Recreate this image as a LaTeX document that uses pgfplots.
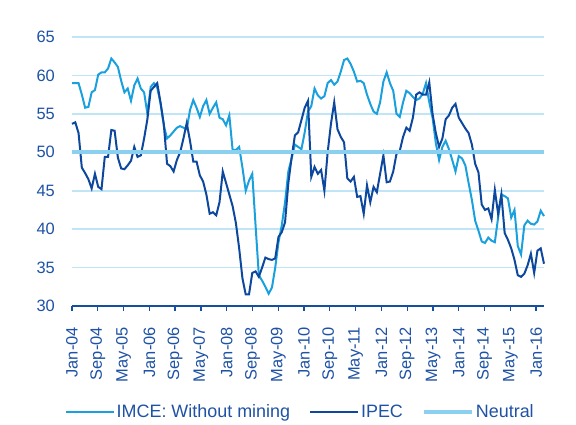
\documentclass[border=0pt]{standalone}
\usepackage{fontspec}
\setmainfont{Liberation Sans}
\usepackage{pgfplots}
\pgfplotsset{compat=1.18}
\usepackage{pgfplotstable}
\definecolor{imce}{RGB}{27,160,222}
\definecolor{ipec}{RGB}{14,72,158}
\definecolor{gridc}{RGB}{192,229,247}
\definecolor{neutral}{RGB}{140,208,240}
\definecolor{txt}{RGB}{30,82,165}
\definecolor{axisc}{RGB}{22,78,160}

% i = month index (Jan-04 = 0)
\pgfplotstableread{
i imce ipec
0 59.0 53.7
1 59.0 53.9
2 59.0 52.5
3 57.5 48.0
4 55.8 47.3
5 55.9 46.5
6 57.8 45.3
7 58.1 47.2
8 60.1 45.5
9 60.4 45.2
10 60.4 49.4
11 60.9 49.4
12 62.2 52.9
13 61.7 52.8
14 61.1 49.3
15 59.3 47.9
16 57.8 47.8
17 58.3 48.3
18 56.7 48.9
19 58.7 50.7
20 59.6 49.4
21 58.3 49.6
22 57.8 51.8
23 55.0 54.3
24 58.5 58.0
25 59.0 58.5
26 58.4 59.0
27 56.4 56.5
28 53.5 53.7
29 51.8 48.5
30 52.2 48.2
31 52.7 47.5
32 53.2 49.0
33 53.4 50.0
34 53.2 51.8
35 53.0 53.8
36 55.5 51.5
37 56.8 48.8
38 55.8 48.8
39 54.6 47.0
40 56.0 46.2
41 56.8 44.5
42 55.0 42.0
43 55.8 42.2
44 56.5 41.8
45 54.5 43.5
46 54.3 47.5
47 53.5 46.0
48 54.8 44.5
49 50.3 43.0
50 50.3 40.8
51 50.7 37.5
52 48.0 33.6
53 45.0 31.5
54 46.3 31.5
55 47.2 34.3
56 40.5 34.5
57 34.0 33.8
58 33.3 35.0
59 32.5 36.3
60 31.6 36.1
61 32.4 36.0
62 35.0 36.2
63 38.3 39.0
64 40.5 39.6
65 43.5 40.9
66 47.5 46.0
67 49.2 49.3
68 51.0 52.2
69 50.7 52.6
70 50.4 54.2
71 52.6 55.8
72 55.3 56.7
73 56.0 46.8
74 58.3 48.1
75 57.4 47.2
76 57.0 47.7
77 57.3 45.0
78 59.0 50.0
79 59.4 53.7
80 58.8 56.5
81 59.2 53.0
82 60.5 52.0
83 62.0 51.3
84 62.2 46.6
85 61.5 46.2
86 60.5 46.8
87 59.2 44.2
88 59.3 44.3
89 59.0 42.0
90 57.5 45.7
91 56.3 43.5
92 55.3 45.5
93 55.0 44.8
94 56.5 47.2
95 59.2 49.6
96 60.4 46.1
97 59.0 46.2
98 58.0 47.5
99 55.0 49.8
100 54.6 50.2
101 56.5 52.0
102 58.0 53.2
103 57.7 52.8
104 57.2 54.5
105 56.8 57.5
106 57.0 57.8
107 57.6 57.5
108 59.0 57.5
109 56.5 59.1
110 54.5 55.0
111 51.2 52.5
112 49.0 50.7
113 50.7 51.8
114 51.5 54.3
115 50.4 54.8
116 49.0 55.8
117 47.5 56.3
118 49.5 54.5
119 49.2 53.8
120 48.3 53.1
121 46.0 52.5
122 43.8 51.0
123 41.1 48.5
124 39.8 47.4
125 38.4 43.2
126 38.2 42.5
127 38.9 42.7
128 38.5 41.3
129 38.3 45.1
130 41.5 42.0
131 44.5 44.5
132 44.3 39.5
133 44.0 38.6
134 41.5 37.5
135 42.5 36.0
136 37.8 34.0
137 36.7 33.8
138 40.5 34.2
139 41.1 35.3
140 40.7 36.8
141 40.6 34.3
142 41.0 37.2
143 42.4 37.5
144 41.7 35.5
}\chartdata

\begin{document}
\begin{tikzpicture}
\path[use as bounding box] (0,0) rectangle (576bp,425bp);
\begin{axis}[
  at={(72bp,119bp)}, anchor=south west,
  scale only axis, width=472bp, height=269bp,
  xmin=0, xmax=144, ymin=30, ymax=65,
  clip=false,
  axis x line*=bottom, axis y line*=left,
  y axis line style={draw=none},
  x axis line style={draw=axisc, line width=1.5bp, -},
  ytick={30,35,...,65},
  ymajorgrids,
  major grid style={draw=gridc, line width=1.6bp},
  ytick style={draw=none},
  xtick={0,7.87,15.73,23.6,31.46,39.33,47.2,55.06,62.93,70.8,78.66,86.53,94.4,102.26,110.13,118,125.86,133.73,141.6},
  xticklabels={Jan-04,Sep-04,May-05,Jan-06,Sep-06,May-07,Jan-08,Sep-08,May-09,Jan-10,Sep-10,May-11,Jan-12,Sep-12,May-13,Jan-14,Sep-14,May-15,Jan-16},
  xtick style={draw=axisc, line width=1.3bp},
  tick align=outside,
  major tick length=5bp,
  /pgf/number format/assume math mode=true,
  ticklabel style={font=\fontsize{16.5}{19}\selectfont, text=txt},
  x tick label style={rotate=90, anchor=east, inner sep=0pt},
  y tick label style={anchor=east, inner sep=0pt},
  xticklabel shift=16bp,
  yticklabel shift=12bp,
  legend style={at={(0.4835,-0.394)}, anchor=center, legend columns=3, draw=none, fill=none,
    font=\fontsize{18}{21}\selectfont, text=txt,
    /tikz/every even column/.append style={column sep=17bp}},
  legend image code/.code={\draw[#1] (0bp,0bp) -- (48bp,0bp);},
]
\addplot[imce, line width=2bp] table[x=i, y=imce] {\chartdata};
\addlegendentry{IMCE: Without mining}
\addplot[ipec, line width=2bp] table[x=i, y=ipec] {\chartdata};
\addlegendentry{IPEC}
\addplot[neutral, line width=4bp] coordinates {(0,50) (144,50)};
\addlegendentry{Neutral}
\end{axis}
\end{tikzpicture}
\end{document}
